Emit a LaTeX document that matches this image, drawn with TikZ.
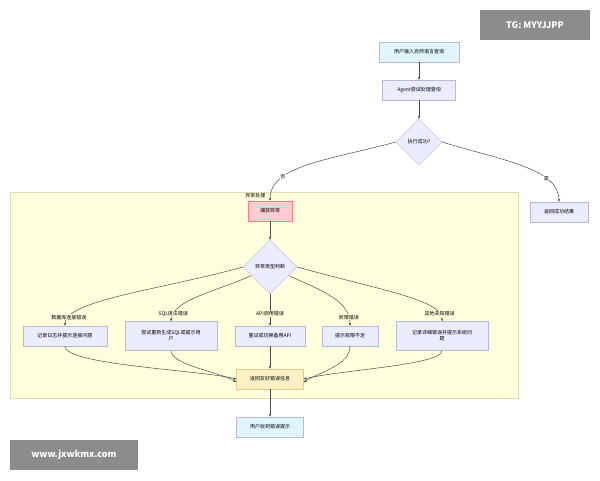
\documentclass[tikz,border=0pt]{standalone}
\usepackage{fontspec}
\setmainfont{Noto Sans CJK SC}
\usetikzlibrary{shapes.geometric,arrows.meta}
\definecolor{bx}{HTML}{ECECFF}
\definecolor{bxd}{HTML}{B8B8DC}
\definecolor{cy}{HTML}{E1F5FE}
\definecolor{pk}{HTML}{FFCDD2}
\definecolor{yl}{HTML}{FFF1C4}
\definecolor{cl}{HTML}{FFFFDE}
\definecolor{cld}{HTML}{DEDEAA}
\tikzset{
 box/.style={draw=bxd,fill=bx,font=\fontsize{5}{6}\selectfont,align=center,minimum height=20pt,inner sep=2pt},
 dia/.style={diamond,draw=bxd,fill=bx,font=\fontsize{5}{6}\selectfont,minimum width=46pt,minimum height=46pt,inner sep=0pt},
 arr/.style={draw=black!70,-{Stealth[length=3pt,width=2.5pt]},line width=0.5pt},
 lab/.style={font=\fontsize{5}{6}\selectfont,fill=cl,inner sep=0.5pt},
 wm/.style={fill=black!45,text=white,font=\fontsize{9}{10}\selectfont\bfseries,inner sep=0pt}
}
\begin{document}
\begin{tikzpicture}[x=1pt,y=-1pt]
\useasboundingbox (0,0) rectangle (600,480);
\fill[white] (0,0) rectangle (600,480);
\draw[cld,fill=cl] (10,192) rectangle (518,398);
\node[font=\fontsize{5}{6}\selectfont,anchor=east] (cll) at (269,196) {异常处理};
\node[box,fill=cy,minimum width=80pt] (n1) at (419,52) {用户输入自然语言查询};
\node[box,minimum width=73pt] (n2) at (419,90) {Agent尝试处理查询};
\node[dia] (d1) at (419,142) {执行成功?};
\node[box,minimum width=58pt] (ok) at (559,212) {返回成功结果};
\node[box,fill=pk,draw=pk!60!red,minimum width=44pt] (c) at (270,211) {捕获异常};
\node[dia,minimum width=54pt,minimum height=54pt] (d2) at (270,267) {异常类型判断};
\node[box,minimum width=84pt] (b1) at (65,336) {记录日志并提示连接问题};
\node[box,minimum width=92pt,minimum height=29pt] (b2) at (171,336) {尝试重新生成SQL或提示用\\户};
\node[box,minimum width=70pt] (b3) at (270,336) {重试或切换备用API};
\node[box,minimum width=56pt] (b4) at (350,336) {提示权限不足};
\node[box,minimum width=92pt,minimum height=29pt] (b5) at (442,336) {记录详细错误并提示系统问\\题};
\node[box,fill=yl,draw=cld!80!orange,minimum width=67pt] (r) at (270,379) {返回友好错误信息};
\node[box,fill=cy,minimum width=67pt] (f) at (270,427) {用户收到错误提示};
\draw[arr] (n1) -- (n2);
\draw[arr] (n2) -- (d1);
\draw[arr] (d1.west) .. controls (330,160) and (270,165) .. node[lab,pos=0.72,fill=white]{否} (c.north);
\draw[arr] (d1.east) .. controls (500,160) and (559,168) .. node[lab,pos=0.72,fill=white]{是} (ok.north);
\draw[arr] (c) -- (d2);
\draw[arr] (d2.west) .. controls (160,290) and (65,300) .. node[lab,pos=0.88]{数据库连接错误} (b1.north);
\draw[arr] (d2) .. controls (220,290) and (172,300) .. node[lab,pos=0.88]{SQL语法错误} (b2.north);
\draw[arr] (d2.south) -- node[lab,pos=0.62]{API调用错误} (b3.north);
\draw[arr] (d2) .. controls (320,290) and (350,300) .. node[lab,pos=0.88]{权限错误} (b4.north);
\draw[arr] (d2.east) .. controls (380,290) and (443,300) .. node[lab,pos=0.88]{其他未知错误} (b5.north);
\draw[arr] (b1.south) .. controls (65,365) and (200,370) .. (r.west);
\draw[arr] (b2.south) .. controls (171,365) and (220,372) .. ([yshift=-3pt]r.west);
\draw[arr] (b3) -- (r);
\draw[arr] (b4.south) .. controls (350,365) and (320,372) .. ([yshift=-3pt]r.east);
\draw[arr] (b5.south) .. controls (442,365) and (340,370) .. (r.east);
\draw[arr] (r) -- (f);
\node[wm,minimum width=110pt,minimum height=30pt] (w1) at (535,25) {TG: MYYJJPP};
\node[wm,minimum width=128pt,minimum height=30pt] (w2) at (74,455) {www.jxwkmx.com};
\end{tikzpicture}
\end{document}
